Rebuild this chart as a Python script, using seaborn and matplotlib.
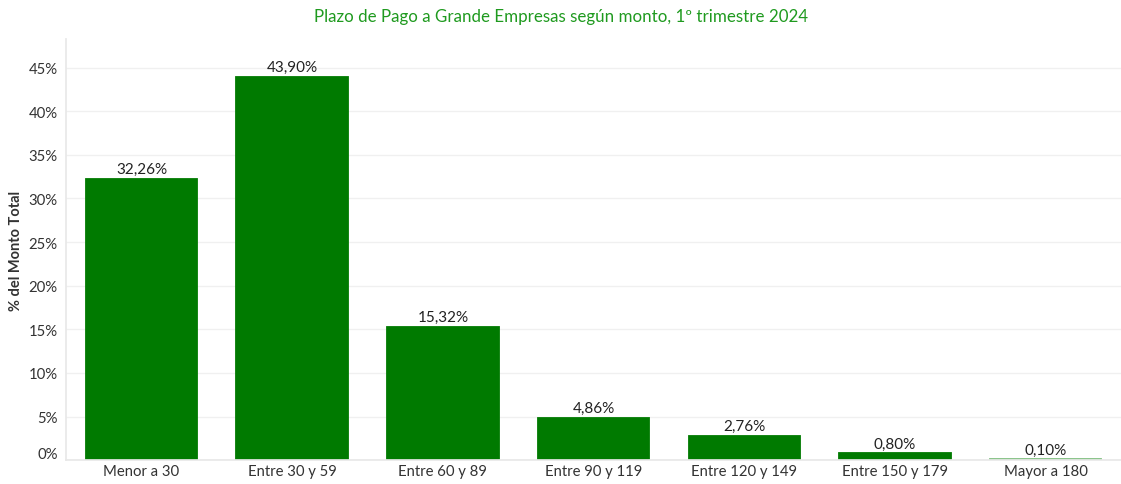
import matplotlib.pyplot as plt
import matplotlib.transforms as mtransforms
import seaborn as sns
import pandas as pd

# data
categorias = ['Menor a 30', 'Entre 30 y 59', 'Entre 60 y 89', 'Entre 90 y 119',
              'Entre 120 y 149', 'Entre 150 y 179', 'Mayor a 180']
porcentajes = [32.26, 43.90, 15.32, 4.86, 2.76, 0.80, 0.10]
colores = ['#007a00', '#007a00', '#007a00', '#007a00', '#007a00', '#007a00', '#80bf80']
yticks = [0, 5, 10, 15, 20, 25, 30, 35, 40, 45]

df = pd.DataFrame({'cat': categorias, 'pct': porcentajes})

sns.set_theme(style="white")
plt.rcParams['font.family'] = ['Lato', 'DejaVu Sans']

fig = plt.figure(figsize=(11.21, 4.85), dpi=100)
ax = fig.add_axes([0.059, 0.049, 0.941, 0.869])

sns.barplot(data=df, x='cat', y='pct', hue='cat', palette=colores, legend=False,
            width=0.74, saturation=1, ax=ax)

# tiny bars still get a visible sliver, like the original
for p, c in zip(ax.patches, colores):
    p.set_edgecolor(c)
    p.set_linewidth(1.3)

ax.set_ylim(0, 48.3)
ax.set_xlim(-0.5, len(categorias) - 0.5)
ax.set_yticks(yticks)
ax.set_yticklabels([f"{t}%" for t in yticks], fontsize=10.7, color='#333333')
ax.tick_params(axis='x', labelsize=10.7, colors='#333333', length=0, pad=3)
ax.tick_params(axis='y', length=0, pad=6)
ax.set_xlabel('')
ax.set_ylabel('% del Monto Total', fontsize=10.5, fontweight='bold', color='#333333', labelpad=4)

# shift 0% label up a bit like the original
lbl0 = ax.get_yticklabels()[0]
lbl0.set_transform(lbl0.get_transform() + mtransforms.ScaledTranslation(0, 8 / 100, fig.dpi_scale_trans))

ax.grid(axis='y', color='#f0f0f0', linewidth=1)
ax.set_axisbelow(True)
for s in ['top', 'right']:
    ax.spines[s].set_visible(False)
ax.spines['left'].set_color('#e8e8e8')
ax.spines['bottom'].set_color('#e8e8e8')

for i, v in enumerate(porcentajes):
    ax.annotate(f"{v:.2f}%".replace('.', ','), (i, v), ha='center', va='bottom',
                xytext=(0, 2), textcoords='offset points', fontsize=11, color='#222222')

fig.text(0.5, 0.965, 'Plazo de Pago a Grande Empresas según monto, 1º trimestre 2024',
         ha='center', va='center', fontsize=12.2, color='#1f9a1f')

fig.savefig('out.png', dpi=100)
